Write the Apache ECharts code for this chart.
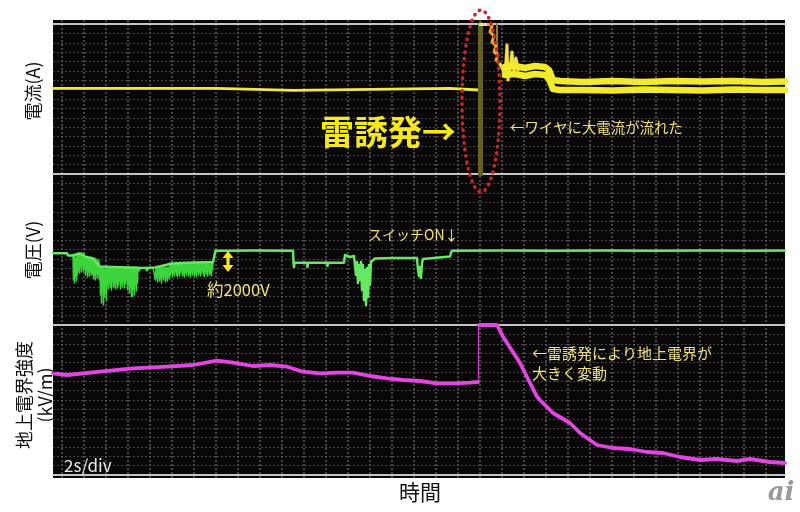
<!DOCTYPE html>
<html>
<head>
<meta charset="utf-8">
<script src="https://cdn.jsdelivr.net/npm/echarts@6/dist/echarts.min.js"></script>
<style>html,body{margin:0;padding:0;background:#fff}#c{width:800px;height:512px}</style>
</head>
<body>
<div id="c"></div>
<script>
// x: time in samples (0..732), y: level in screen divisions (panel height units)
const currentBase = [[0,85.7],[163.7,85.7],[164.5,83.7],[240,83.7],[240.5,85.7],[397,85.7],[398,84],[425.5,84]];
const currentSurge = [[427.5,0],[427.5,150]];
const currentSurge2 = [[444,150],[444,116]];
const currentCap = [[427,149.5],[439,149.5]];
const currentNoise = [[435,150],[439,148],[437,142],[441,138],[439,132],[443,128],[441,122],[445,119],[443,114],[447,110]];
const currentSpikes = [[447,110],[450,104],[452,98],[454,129],[455,94],[457,104],[459,122],[461,102],[463,116],[465,104],[467,106]];
const bandUpper = [[452,107],[462,108],[472,106],[482,108],[492,107],[496,104],[500,94],[507,93],[530,92],[560,93],[590,92],[620,93],[650,92.5],[680,93],[710,92],[732,92.5]];
const bandLower = [[452,99],[462,100],[472,98],[482,100],[492,99],[496,95],[500,85],[507,84],[530,84],[560,83.5],[590,84.5],[620,84],[650,83.5],[680,84.5],[710,84],[732,84]];

const voltageBase = [[0,71.7],[14,71.7],[15,69.5],[19,69.5],[21,70],[27,71.5],[33,68],[40,66.5],[47,58.5],[60,58],[74,57.5],[90,57],[102,57.5],[117,61],[130,62],[145,62.5],[160,63],[161.5,64],[162.5,74.3],[176,74.3],[200,74.5],[240,74.3],[240.5,62.3],[241,58],[241.5,62.3],[254,62.3],[254.5,58],[255,62.3],[274,62.3],[274.5,59],[275,62.3],[291,62.3],[292,70],[294,70.5],[297,68],[301,69],[302,70],[303,50],[304,63],[305,42],[306,60],[307,45],[308,63],[309,35],[310,60],[311,25],[312,55],[313,20],[314,57],[315,28],[316,60],[317,40],[318,63],[319,65],[322,66.5],[340,67],[364,67],[365,55],[366,49],[367,58],[368,47],[369,62],[370,66],[371,67.5],[397,68.5],[398,72],[399,74.3],[450,74.5],[500,74.2],[550,74.6],[600,74.3],[650,74.6],[700,74.2],[732,74.4]];
const voltageNoise = [[20,70],[20.5,45],[21,69],[21.5,42],[22,70],[22.5,48],[23,66],[23.5,44],[24,71],[24.5,50],
[25,72],[25.5,55],[26,70],[26.5,52],[27,72],[27.5,58],[28,71],[28.5,53],[29,72],[29.5,60],[30,70],[30.5,54],[31,72],[31.5,57],
[32,68],[32.5,50],[33,67],[33.5,55],[34,68],[34.5,48],[35,66],[35.5,53],[36,68],[36.5,49],[37,65],[37.5,55],[38,68],[38.5,50],[39,66],[39.5,52],
[40,67],[40.5,46],[41,64],[41.5,50],[42,67],[42.5,45],[43,63],[43.5,52],[44,66],[44.5,47],[45,62],[45.5,50],[46,65],[46.5,45],
[47,58],[47.5,30],[48,57],[48.5,22],[49,58],[49.5,35],[50,56],[50.5,20],[51,58],[51.5,28],[52,55],[52.5,32],[53,58],[53.5,25],
[54,58],[54.5,40],[55,57],[55.5,36],[56,58],[56.5,42],[57,56],[57.5,38],[58,58],[58.5,35],[59,57],[59.5,44],[60,58],[60.5,38],[61,56],[61.5,41],[62,58],[62.5,36],[63,57],[63.5,43],[64,58],[64.5,37],[65,56],[65.5,40],[66,58],[66.5,45],[67,57],[67.5,36],[68,58],[68.5,42],[69,56],[69.5,38],[70,58],[70.5,44],[71,57],[71.5,37],[72,58],[72.5,41],[73,57],[73.5,45],
[74,58],[74.5,35],[75,56],[75.5,40],[76,58],[76.5,32],[77,57],[77.5,38],[78,58],[78.5,28],[79,56],[79.5,29],[80,58],[80.5,36],[81,57],[81.5,30],[82,58],[82.5,40],[83,56],[83.5,34],[84,58],[84.5,42],
[85,57],[86,54],[88,57],[90,55],[92,57],[94,54],[96,57],[98,55],[100,57],[101,55],
[102,58],[102.5,45],[103,57],[103.5,48],[104,58],[104.5,43],[105,56],[105.5,50],[106,58],[106.5,44],[107,57],[107.5,47],[108,58],[108.5,42],[109,56],[109.5,49],[110,58],[110.5,45],[111,57],[111.5,50],[112,58],[112.5,43],[113,56],[113.5,47],[114,58],[114.5,44],[115,57],[115.5,49],[116,58],[116.5,46],
[117,62],[117.5,50],[118,61],[118.5,53],[119,63],[119.5,48],[120,61],[120.5,52],[121,62],[121.5,49],[122,61],[122.5,54],[123,63],[123.5,50],[124,62],[124.5,48],[125,61],[125.5,53],[126,62],[126.5,49],[127,63],[127.5,52],[128,61],[128.5,55],[129,62],[129.5,49],[130,61],[130.5,51],[131,63],[131.5,48],[132,62],[132.5,53],[133,61],[133.5,50],[134,62],[134.5,54],[135,63],[135.5,49],[136,61],[136.5,52],[137,62],[137.5,48],[138,61],[138.5,53],[139,63],[139.5,50],[140,62],[140.5,55],[141,61],[141.5,49],[142,62],[142.5,52],[143,63],[143.5,48],[144,61],[144.5,54],[145,62],[145.5,50],[146,63],[146.5,53],[147,61],[147.5,49],[148,62],[148.5,52],[149,63],[149.5,55],[150,61],[150.5,50],[151,62],[151.5,48],[152,63],[152.5,53],[153,61],[153.5,51],[154,62],[154.5,49],[155,63],[155.5,54],[156,61],[156.5,50],[157,62],[157.5,52],[158,63],[158.5,49],[159,62],[159.5,55],[160,63]];

const fieldBefore = [[0,101.7],[14,100],[47,103.3],[80,106.7],[114,108.3],[140,110],[164,114.3],[180,112.3],[200,109],[217,110],[234,108.3],[250,103.3],[267,101.7],[284,102.3],[300,102.3],[317,99],[334,96.7],[350,95],[367,94],[384,91.7],[400,91.7],[417,92.3],[425,93]];
const fieldJump = [[425.5,93],[425.5,150]];
const fieldAfter = [[426,150],[444,150],[450,138.3],[467,112],[477,92],[484,78.3],[487,75],[500,62],[517,52],[527,42],[544,30],[560,27],[577,26],[594,23],[610,22],[627,18],[647,15],[664,16],[684,14],[697,16],[717,13],[732,12]];

const labelCurrent = '電流(A)';
const labelVoltage = '電圧(V)';
const labelField1 = '地上電界強度';
const labelField2 = '(kV/m)';
const labelTime = '時間';
const noteTrigger = '雷誘発→';
const noteWire = '←ワイヤに大電流が流れた';
const noteSwitch = 'スイッチON↓';
const note2000 = '約2000V';
const noteField1 = '←雷誘発により地上電界が';
const noteField2 = '大きく変動';
const noteScale = '2s/div';

const FONT = '"Noto Sans CJK JP", "Noto Sans", sans-serif';
const chart = echarts.init(document.getElementById('c'), null, {renderer: 'canvas'});

const sepLine = {show: true, lineStyle: {color: '#c4c4c4', width: 2}};
function panelX(grid, pos) {
  return {type: 'value', gridIndex: grid, min: 0, max: 732, position: pos,
    axisLine: Object.assign({onZero: false}, sepLine), axisTick: {show: false}, axisLabel: {show: false}, splitLine: {show: false}};
}
function panelY(grid, max) {
  return {type: 'value', gridIndex: grid, min: 0, max: max, interval: max / 16,
    axisLine: {show: false}, axisTick: {show: false}, axisLabel: {show: false},
    splitLine: {show: true, showMinLine: false, showMaxLine: false, lineStyle: {color: '#444444', width: 1, type: [2, 2]}}};
}
function ln(data, xi, yi, color, width, z) {
  return {type: 'line', xAxisIndex: xi, yAxisIndex: yi, data: data, symbol: 'none', silent: true,
    lineStyle: {color: color, width: width, cap: 'round', join: 'round'}, z: z || 2};
}

const ell = [];
for (let i = 0; i <= 120; i++) { const a = i / 120 * 2 * Math.PI; ell.push([481 + 19 * Math.cos(a), 101 + 91 * Math.sin(a)]); }

function txt(x, y, text, font, fill, align, rot) {
  return {type: 'text', x: x, y: y, rotation: rot || 0, z: 50,
    style: {text: text, font: font, fill: fill, textAlign: align || 'left', align: align || 'left', textVerticalAlign: 'middle', verticalAlign: 'middle'}};
}

const option = {
  animation: false,
  backgroundColor: '#ffffff',
  grid: [
    {left: 53, right: 15, top: 20, bottom: 34, show: true, backgroundColor: '#0a0709', borderWidth: 0},
    {left: 39.7, right: 15, top: 20, bottom: 34, show: false},
    {left: 53, right: 15, top: 24, height: 150, show: false},
    {left: 53, right: 15, top: 174, height: 151, show: false},
    {left: 53, right: 15, top: 325, height: 150, show: false}
  ],
  xAxis: [
    {type: 'value', gridIndex: 0, show: false, min: 0, max: 1},
    {type: 'value', gridIndex: 1, min: -1, max: 32.88, interval: 1,
      axisLine: {show: false}, axisTick: {show: false}, axisLabel: {show: false},
      splitLine: {show: true, showMinLine: false, showMaxLine: false, lineStyle: {color: '#5e5e5e', width: 1.5, type: [2, 2]}}},
    panelX(2, 'bottom'),
    panelX(2, 'top'),
    panelX(3, 'bottom'),
    panelX(4, 'bottom')
  ],
  yAxis: [
    {type: 'value', gridIndex: 0, show: false, min: 0, max: 1},
    {type: 'value', gridIndex: 1, show: false, min: 0, max: 1},
    panelY(2, 150),
    panelY(3, 151),
    panelY(4, 150)
  ],
  series: [
    ln(currentBase, 2, 2, '#f0e84a', 2.8),
    ln(currentSurge, 2, 2, '#67621e', 5),
    ln(currentSurge2, 2, 2, '#8a8230', 2),
    ln(currentCap, 2, 2, '#e4e0b4', 3),
    ln(currentNoise, 2, 2, '#e6a632', 3),
    ln(currentSpikes, 2, 2, '#f0e23c', 3),
    ln(bandUpper, 2, 2, '#f2ea2e', 6.5),
    ln(bandLower, 2, 2, '#f2ea2e', 6.5),
    ln(voltageNoise, 4, 3, '#3cd63c', 1.5),
    ln(voltageBase, 4, 3, '#66e866', 2.5, 3),
    ln(fieldBefore, 5, 4, '#e446e4', 3.8),
    ln(fieldJump, 5, 4, '#d040d0', 1.2),
    ln(fieldAfter, 5, 4, '#e446e4', 3.8)
  ],
  graphic: [
    {type: 'polyline', z: 60, shape: {points: ell},
      style: {fill: 'none', stroke: '#c8262a', lineWidth: 3.5, lineDash: [0.5, 6], lineCap: 'round'}},
    {type: 'polygon', z: 55, shape: {points: [[228,251],[233.5,258],[229.6,258],[229.6,265],[233.5,265],[228,272],[222.5,265],[226.4,265],[226.4,258],[222.5,258]]},
      style: {fill: '#f5e61e'}},
    txt(320, 132, noteTrigger, 'bold 34px ' + FONT, '#f7e81c'),
    txt(510, 128, noteWire, '14.4px ' + FONT, '#f0e27a'),
    txt(368, 235, noteSwitch, '14px ' + FONT, '#f0e27a'),
    txt(207, 290, note2000, '16.5px ' + FONT, '#f0e27a'),
    txt(532, 353, noteField1, '15px ' + FONT, '#f0e27a'),
    txt(532, 373, noteField2, '15px ' + FONT, '#f0e27a'),
    txt(64, 466, noteScale, '17px ' + FONT, '#e8e8e8'),
    txt(33, 91, labelCurrent, '18px ' + FONT, '#111111', 'center', Math.PI / 2),
    txt(33, 250, labelVoltage, '18px ' + FONT, '#111111', 'center', Math.PI / 2),
    txt(24, 395, labelField1, '18px ' + FONT, '#111111', 'center', Math.PI / 2),
    txt(45, 395, labelField2, '18px ' + FONT, '#111111', 'center', Math.PI / 2),
    txt(420, 492, labelTime, '21px ' + FONT, '#111111', 'center'),
    txt(781, 493, 'ai', 'italic bold 26px "DejaVu Serif", serif', '#9a9a9a', 'center')
  ]
};
chart.setOption(option);
</script>
</body>
</html>
